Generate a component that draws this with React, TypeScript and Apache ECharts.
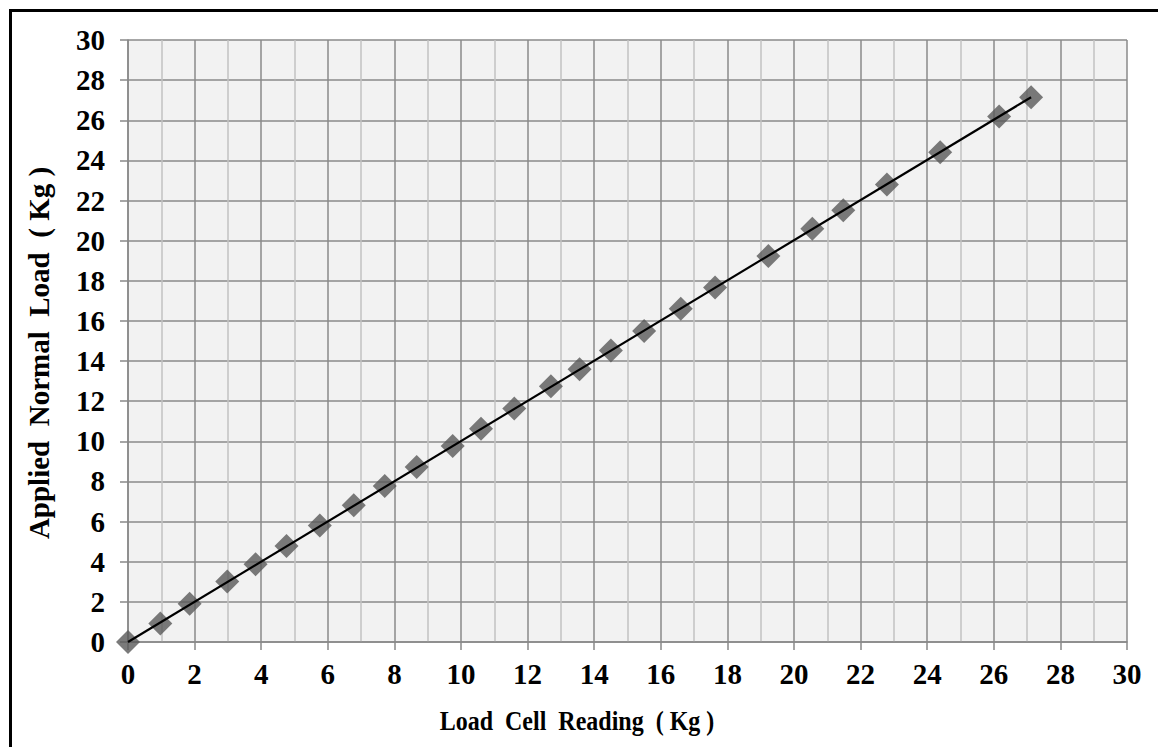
import React, { useEffect, useRef } from "react";
import * as echarts from "echarts";

// Load cell calibration: reading vs. applied normal load (kg)
const loadCellReading: number[] = [
  0, 0.97, 1.85, 2.98, 3.83, 4.76, 5.76, 6.78, 7.71, 8.67, 9.75, 10.6, 11.6,
  12.7, 13.56, 14.5, 15.5, 16.6, 17.63, 19.23, 20.55, 21.48, 22.79, 24.39,
  26.16, 27.12,
];
const appliedNormalLoad: number[] = [
  0, 0.92, 1.91, 3.02, 3.87, 4.78, 5.81, 6.81, 7.77, 8.72, 9.77, 10.63, 11.63,
  12.74, 13.59, 14.53, 15.5, 16.61, 17.66, 19.23, 20.6, 21.51, 22.8, 24.41,
  26.19, 27.15,
];
const axisTicks: number[] = [0, 2, 4, 6, 8, 10, 12, 14, 16, 18, 20, 22, 24, 26, 28, 30];

const xTitle = "Load  Cell  Reading  ( Kg )";
const yTitle = "Applied  Normal  Load  ( Kg )";

const FONT = "'Liberation Serif', 'Times New Roman', serif";

export default function App() {
  const ref = useRef<HTMLDivElement>(null);

  useEffect(() => {
    if (!ref.current) return;
    const chart = echarts.init(ref.current, undefined, { renderer: "svg" });

    const points = loadCellReading.map((x, i) => [x, appliedNormalLoad[i]]);
    const last = points.length - 1;
    const trend = [points[0], points[last]];

    const axisMin = axisTicks[0];
    const axisMax = axisTicks[axisTicks.length - 1];
    const step = axisTicks[1] - axisTicks[0];

    const labelStyle = {
      color: "#000",
      fontFamily: FONT,
      fontWeight: "bold" as const,
      fontSize: 29,
    };

    chart.setOption({
      animation: false,
      backgroundColor: "#fff",
      grid: {
        left: 128,
        right: 31,
        top: 40,
        bottom: 105,
        show: true,
        backgroundColor: "#f2f2f2",
        borderWidth: 0,
      },
      xAxis: {
        type: "value",
        min: axisMin,
        max: axisMax,
        interval: step,
        axisLine: { show: true, lineStyle: { color: "#888", width: 1.5 } },
        axisTick: { show: true, length: 8, lineStyle: { color: "#888", width: 1.5 } },
        axisLabel: { ...labelStyle, margin: 17 },
        splitLine: { show: true, lineStyle: { color: "#8a8a8a", width: 1.5 } },
        minorTick: { show: false, splitNumber: 2 },
        minorSplitLine: { show: true, lineStyle: { color: "#c2c2c2", width: 1.5 } },
      },
      yAxis: {
        type: "value",
        min: axisMin,
        max: axisMax,
        interval: step,
        axisLine: { show: true, lineStyle: { color: "#888", width: 1.5 } },
        axisTick: { show: true, length: 8, lineStyle: { color: "#888", width: 1.5 } },
        axisLabel: { ...labelStyle, margin: 23 },
        splitLine: { show: true, lineStyle: { color: "#8a8a8a", width: 1.5 } },
      },
      graphic: [
        {
          type: "rect",
          shape: { x: 10.5, y: 10.5, width: 1400, height: 1000 },
          style: { fill: "none", stroke: "#000", lineWidth: 3 },
          silent: true,
          z: 100,
        },
        {
          type: "text",
          x: 577,
          y: 721,
          scaleY: 1.12,
          style: {
            text: xTitle,
            fill: "#000",
            font: `bold 24px ${FONT}`,
            align: "center",
            verticalAlign: "middle",
          },
        },
        {
          type: "text",
          x: 39,
          y: 353,
          rotation: Math.PI / 2,
          style: {
            text: yTitle,
            fill: "#000",
            font: `bold 29px ${FONT}`,
            align: "center",
            verticalAlign: "middle",
          },
        },
      ],
      series: [
        {
          name: "Readings",
          type: "scatter",
          data: points,
          symbol: "diamond",
          symbolSize: 24,
          itemStyle: { color: "#595959" },
          z: 2,
        },
        {
          name: "Trend",
          type: "line",
          data: trend,
          symbol: "none",
          lineStyle: { color: "#000", width: 2.2 },
          z: 3,
        },
      ],
    });

    return () => chart.dispose();
  }, []);

  return (
    <div
      ref={ref}
      style={{ position: "absolute", left: 0, top: 0, width: 1158, height: 747 }}
    />
  );
}
